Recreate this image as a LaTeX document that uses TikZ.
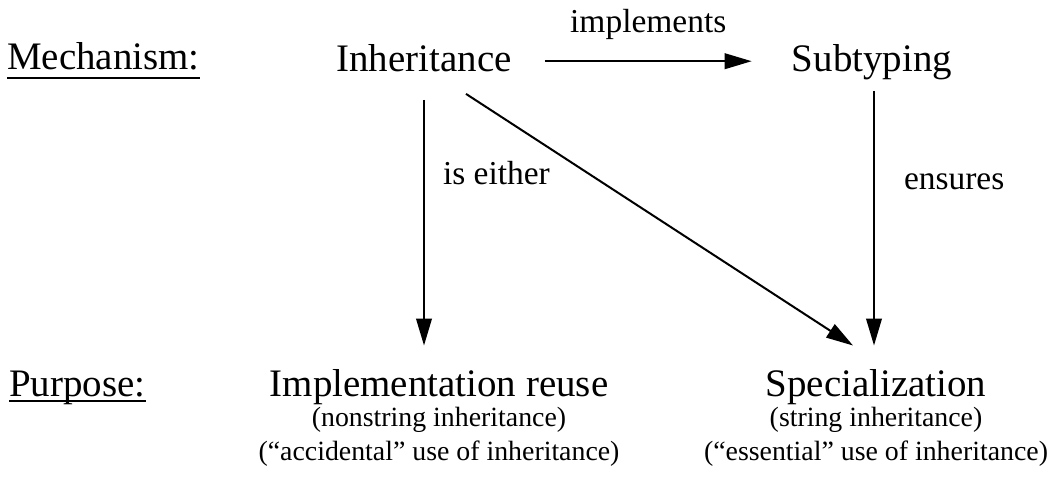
\documentclass[tikz,border=0pt]{standalone}
\usepackage{fontspec}
\setmainfont{Liberation Serif}
\usetikzlibrary{arrows.meta,positioning}

\begin{document}
\begin{tikzpicture}[x=0.25mm,y=-0.25mm,inner sep=0pt,node distance=8.4mm,
        big/.style={font=\fontsize{27.7}{33}\selectfont,text height=7.3mm,text depth=2.4mm},
        lbl/.style={font=\fontsize{23.8}{28}\selectfont,text height=6.3mm,text depth=2.1mm},
        small/.style={font=\fontsize{19.8}{24}\selectfont,text height=5.2mm,text depth=1.75mm},
        arr/.style={line width=0.5mm,-{Triangle[length=6.75mm,width=3.9mm]}},
        uline/.style={line width=0.7mm}]
        \useasboundingbox (0,0) rectangle (1057,476);
        % top row
        \draw node [big,anchor=west] (Mech) at (7,59.2) {Mechanism:};
        \draw node [big] (Inh) at (424,61.2) {Inheritance};
        \draw node [big] (Sub) at (872,61.2) {Subtyping};
        % bottom row
        \draw node [big,anchor=west] (Purp) at (9,386.2) {Purpose:};
        \draw node [big] (Impl) at (439,386.2) {Implementation reuse};
        \draw node [small,below of=Impl] (Impl1) {(nonstring inheritance)};
        \draw node [small,below of=Impl1] (Impl2) {(“accidental” use of inheritance)};
        \draw node [big] (Spec) at (876,386.2) {Specialization};
        \draw node [small,below of=Spec] (Spec1) {(string inheritance)};
        \draw node [small,below of=Spec1] (Spec2) {(“essential” use of inheritance)};
        \coordinate (ImplTop) at (Inh.south |- Impl.north);
        \coordinate (SpecTop) at (Sub.south |- Spec.north);
        \draw [uline] ([shift={(0,9)}]Mech.base west) -- ([shift={(0,9)}]Mech.base east);
        \draw [uline] ([shift={(0,5)}]Purp.base west) -- ([shift={(0,5)}]Purp.base east);
        \draw [arr]
        ([shift={(33,0)}]Inh.east) -- ([shift={(-40,0)}]Sub.west)
            node [lbl,midway,above=4.9mm] (Impls) {implements};
        \draw [arr]
        ([shift={(0,19)}]Inh.south) -- ([shift={(0,-21)}]ImplTop)
            node [lbl,pos=0.31,right=4.5mm] (Either) {is either};
        \draw [arr]
        ([shift={(42,13)}]Inh.south) -- ([shift={(-23,-21)}]Spec.north);
        \draw [arr]
        ([shift={(2,10)}]Sub.south) -- ([shift={(2,-21)}]SpecTop)
            node [lbl,pos=0.354,right=7.25mm] (Ens) {ensures};
    \end{tikzpicture}
\end{document}
